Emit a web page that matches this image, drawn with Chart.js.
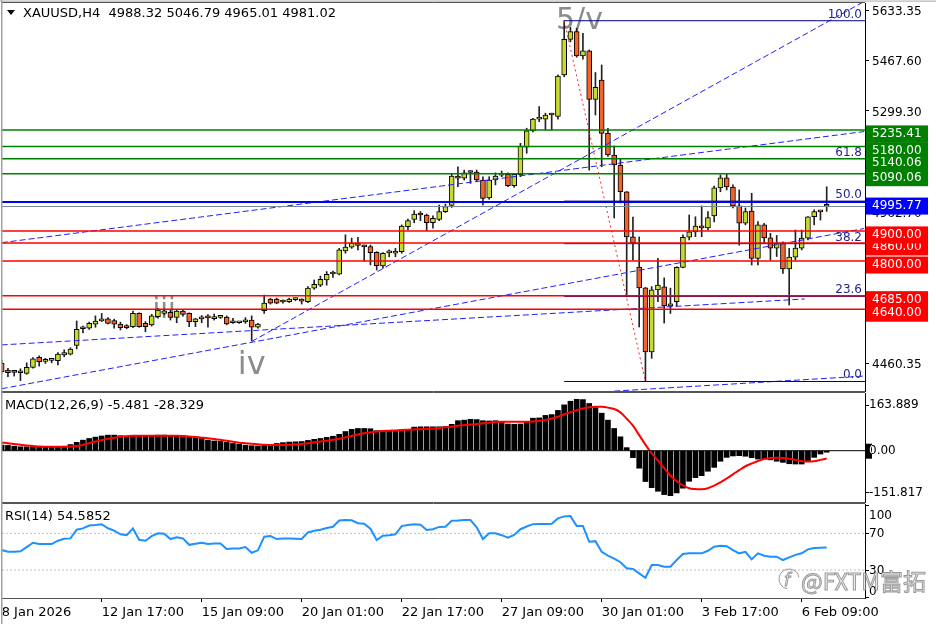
<!DOCTYPE html>
<html>
<head>
<meta charset="utf-8">
<script src="https://cdn.jsdelivr.net/npm/chart.js"></script>
<style>
  html, body { margin: 0; padding: 0; background: #fff; }
  #wrap { position: relative; width: 936px; height: 624px; overflow: hidden; background: #fff; }
  canvas { position: absolute; left: 0; }
  #mainCv { top: 0; }
  #macdCv { top: 392px; }
  #rsiCv { top: 503px; }
</style>
</head>
<body>
<div id="wrap">
  <canvas id="mainCv" width="936" height="392"></canvas>
  <canvas id="macdCv" width="936" height="111"></canvas>
  <canvas id="rsiCv" width="936" height="121"></canvas>
</div>
<script>
// XAUUSD H4 candles, 8 Jan - 9 Feb 2026
const symbol = 'XAUUSD';
const period = 'H4';

const openP = [4460,4438,4431,4429,4427,4447,4480,4467,4470,4469,
  4488,4491,4520,4575,4577,4590,4601,4608,4602,4591,
  4584,4582,4626,4593,4588,4615,4626,4630,4613,4634,
  4626,4599,4608,4618,4609,4613,4614,4595,4595,4598,
  4604,4580,4635,4674,4674,4664,4665,4672,4673,4665,
  4710,4720,4737,4757,4756,4834,4846,4859,4848,4848,
  4829,4784,4827,4826,4831,4914,4938,4955,4953,4927,
  4938,4964,4985,5082,5075,5094,5095,5069,5010,5069,
  5085,5088,5050,5087,5178,5232,5271,5271,5285,5280,
  5418,5536,5562,5481,5498,5337,5401,5224,5152,5119,
  5030,4880,4780,4711,4498,4704,4714,4651,4665,4779,
  4879,4897,4916,4910,4950,5043,5076,5046,4983,4926,
  4966,4809,4920,4877,4843,4860,4774,4813,4843,4876,
  4947,4964,4988.32];

const highP = [4471,4444,4435,4442,4462,4479,4485,4477,4477,4496,
  4505,4512,4601,4584,4597,4618,4626,4612,4607,4597,
  4589,4634,4628,4599,4623,4643,4641,4637,4637,4637,
  4628,4610,4619,4622,4624,4618,4618,4610,4597,4612,
  4618,4593,4687,4676,4677,4671,4677,4677,4675,4715,
  4737,4750,4765,4767,4842,4887,4876,4879,4853,4853,
  4831,4828,4837,4842,4920,4939,4967,4964,4956,4950,
  4986,4989,5089,5113,5102,5100,5102,5080,5080,5093,
  5099,5093,5091,5191,5241,5274,5313,5291,5291,5418,
  5598,5576,5573,5556,5501,5426,5451,5241,5182,5141,
  5031,4946,4880,4712,4715,4809,4744,4710,4781,4887,
  4953,4947,4983,4964,5049,5086,5091,5053,5036,4976,
  5025,4931,4925,4892,4885,4864,4842,4903,4903,4948,
  4970,4966,5046.79];

const lowP = [4428,4416,4418,4403,4424,4444,4451,4460,4462,4455,
  4482,4488,4508,4561,4573,4580,4599,4591,4577,4571,
  4575,4579,4580,4565,4584,4610,4621,4604,4595,4617,
  4582,4582,4595,4580,4604,4609,4588,4593,4593,4593,
  4535,4577,4626,4657,4658,4660,4662,4668,4657,4662,
  4706,4715,4720,4746,4754,4826,4842,4837,4800,4787,
  4770,4776,4814,4814,4826,4903,4927,4934,4901,4909,
  4934,4961,4978,5047,5069,5058,5063,4986,5005,5053,
  5080,5047,5045,5080,5158,5229,5263,5235,5235,5271,
  5412,5528,5477,5470,5102,5285,5113,5147,4943,4993,
  4681,4803,4581,4400,4477,4665,4594,4626,4650,4777,
  4870,4881,4881,4903,4930,5030,5036,4976,4853,4920,
  4787,4787,4859,4803,4815,4759,4654,4803,4837,4870,
  4920,4936,4965.01];

const closeP = [4433,4429,4430,4430,4447,4475,4466,4469,4471,4491,
  4496,4508,4573,4577,4593,4601,4608,4593,4590,4579,
  4579,4626,4582,4582,4618,4637,4635,4613,4634,4623,
  4599,4608,4615,4611,4615,4614,4591,4596,4595,4605,
  4580,4591,4660,4660,4660,4665,4674,4673,4667,4710,
  4723,4739,4756,4759,4837,4846,4859,4852,4847,4828,
  4785,4826,4828,4833,4916,4934,4956,4953,4927,4942,
  4964,4981,5082,5075,5093,5097,5069,5008,5069,5082,
  5088,5050,5088,5182,5232,5271,5272,5285,5286,5414,
  5536,5562,5481,5498,5337,5377,5224,5152,5119,5030,
  4880,4860,4711,4498,4704,4720,4651,4654,4779,4879,
  4897,4916,4910,4944,5043,5076,5046,4983,4926,4964,
  4809,4920,4877,4843,4860,4774,4813,4843,4876,4947,
  4964,4963,4981.02];

const macdHist = [20,19,16,14,14,14,15,15,15,15,
  16,22,30,38,44,49,53,56,56,54,
  53,55,55,55,55,56,56,55,55,54,
  50,47,44,38,35,34,30,26,23,20,
  18,17,19,22,26,29,31,32,33,37,
  41,44,48,52,59,69,77,80,80,79,
  72,72,73,73,75,77,85,86,86,86,
  86,87,95,108,110,113,112,108,107,108,
  103,96,95,96,103,117,118,127,130,145,
  165,178,185,184,170,155,135,110,80,50,
  11,-25,-63,-111,-133,-146,-158,-162,-152,-135,
  -110,-97,-90,-74,-60,-38,-24,-19,-18,-20,
  -25,-30,-30,-33,-38,-42,-47,-48,-48,-37,
  -24,-12,-5.481];

const macdSignal = [29,27,24,21,19,17,15,14.5,14.5,14.5,
  14.5,15,17,21,27,33,38,43,47,50,
  52,54,54,54,54,54,54,54,54,53,
  51,49,47,45,42,39,36,32,29,27,
  25,23,21,20.5,20.5,20.5,21,23,24,27,
  30,33,36,39,43,48,53,58,63,66,
  69,71,72,73,74.5,75.5,76.5,77.5,79,80,
  82,84,86.5,90,92,94,96,98.6,101,103,
  104,104,104,104,104,105,108,111,116,122,
  131,139,146,152,156,158,158,155,150,138,
  115,90,56,22,-10,-35,-63,-90,-110,-125,
  -135,-138,-139,-135,-126,-114,-100,-85,-70,-56,
  -46,-37,-30,-26,-25,-26,-29,-33,-37,-39,
  -38,-33,-28.329];

const rsiVals = [51.8,50,50,50.5,55,59.7,58.3,58.3,58.3,62,
  64,64.5,74,75.4,78.5,79,80,75.5,73,69,
  68.1,75.4,63,62,67,70,69.5,63.8,65.6,64.5,
  57.5,58.7,59.7,58.3,59,59,52.9,53.6,53.6,55,
  48.8,51.5,66.3,67,63.8,64.5,64.5,64.2,63.8,71,
  72.9,74,75.8,77.2,84,84.5,84.3,81,80.5,75,
  62.7,67.4,68,68.9,77.9,79,79.8,79.5,73.6,74.5,
  77,77.2,83.7,84,84.5,84.5,76.5,63.8,70,70,
  68,65.2,68.3,74.5,77.5,80,80.1,80.1,80.5,86.3,
  88.5,88.8,77.9,77.9,60.8,61.5,49.9,45.8,42.5,38.5,
  32,31.1,26.4,21.6,35.4,35.4,33.6,33.6,40.9,47.4,
  48.2,48.2,48.2,51,55.5,56.5,56,51.8,48.2,49.9,
  41.6,48.2,45.6,44.5,44.5,40.9,43.8,46.5,48.2,52.5,
  54,54.3,54.5852];

// time axis
const timeTickIdx = [0, 16, 32, 48, 64, 80, 96, 112, 128];
const timeTickLabels = ['8 Jan 2026', '12 Jan 17:00', '15 Jan 09:00', '20 Jan 01:00', '22 Jan 17:00',
  '27 Jan 09:00', '30 Jan 01:00', '3 Feb 17:00', '6 Feb 09:00'];

// price axis ticks
const priceTicks = [5633.35, 5467.60, 5299.30, 5131.51, 4962.70, 4795.93, 4628.14, 4460.35];
const macdTicks = [163.889, 0, -151.817];
const rsiTicks = [100, 70, 30, 0];
const rsiLevels = [70, 30];

// drawn objects
const greenLevels = [5235.41, 5180.00, 5140.06, 5090.06];
const redLevels = [4900.00, 4860.00, 4800.00, 4685.00, 4640.00];
const blueLevel = 4995.77;
const fibHigh = { k: 90, p: 5598 };
const fibLow = { k: 103, p: 4400 };
const fibRatios = [0, 23.6, 38.2, 50.0, 61.8, 100.0];
// [bar1, price1, bar2, price2]
const trendLines = [
  [0, 4861, 138, 5230],
  [40, 4533, 138, 5662],
  [0, 4521.5, 128.5, 4674],
  [0, 4376, 138, 4908],
  [98, 4368, 138, 4418],
];
// [text, bar, baseline price, font px]
const waveLabels = [['iii', 26, 4610, 28], ['iv', 40, 4424, 32], ['5/v', 92.45, 5572, 30]];
// axis tags in the order MT4 painted them
const priceTags = [[5235.41, 'g'], [5180.00, 'g'], [5140.06, 'g'], [5090.06, 'g'], [4995.77, 'b'],
  [4860.00, 'r'], [4900.00, 'r'], [4800.00, 'r'], [4685.00, 'r'], [4640.00, 'r']];

const N = closeP.length;
const X_MIN = 0.05, X_MAX = 138.13;
const AXIS_W = 71;
const FONT = '"DejaVu Sans", sans-serif';
const BULL = '#c9da2c', BEAR = '#f2642a';
const tagColors = { g: '#008000', b: '#0000ff', r: '#ff0000' };

Chart.defaults.font.family = FONT;

const fibPrice = (r) => fibLow.p + (fibHigh.p - fibLow.p) * r / 100;

function hLine(price, color, width, fromK, dash) {
  return {
    type: 'line',
    data: [{ x: fromK, y: price }, { x: X_MAX, y: price }],
    borderColor: color,
    borderWidth: width,
    borderDash: dash || [],
    pointRadius: 0,
    order: 1,
  };
}

// drop the label overhang padding chart.js adds, the windows are laid out by hand
function noPad(s) {
  s.paddingTop = 0; s.paddingBottom = 0; s.paddingLeft = 0; s.paddingRight = 0;
}

function xScale(show) {
  return {
    type: 'linear', display: show, min: X_MIN, max: X_MAX, offset: false,
    afterFit: noPad,
    grid: { offset: false, drawOnChartArea: false, tickLength: 4, color: '#000' },
  };
}

function yScale(min, max, ticks, labelFn, showLabels, pad, shift) {
  return {
    type: 'linear', position: 'right', min, max,
    afterFit: (s) => { s.width = AXIS_W; noPad(s); },
    afterBuildTicks: (s) => { s.ticks = ticks.map((v) => ({ value: v })); },
    ticks: {
      display: showLabels, autoSkip: false, padding: pad, color: '#000',
      labelOffset: shift || 0,
      font: { family: FONT, size: 12 },
      callback: labelFn,
    },
    grid: { drawOnChartArea: false, tickLength: 4, color: '#000' },
    border: { display: true, color: '#000' },
  };
}

const baseOpts = {
  responsive: false,
  animation: false,
  devicePixelRatio: 1,
  events: [],
  plugins: { legend: { display: false }, tooltip: { enabled: false } },
};

// frame lines around each sub-window
const panelFrame = {
  id: 'panelFrame',
  afterDraw(chart) {
    const { ctx, chartArea: a } = chart;
    ctx.save();
    ctx.strokeStyle = '#555';
    ctx.lineWidth = 1;
    ctx.beginPath();
    ctx.moveTo(a.left, a.top - 0.5); ctx.lineTo(a.right, a.top - 0.5);
    ctx.moveTo(a.left, a.bottom + 0.5); ctx.lineTo(a.right, a.bottom + 0.5);
    ctx.stroke();
    ctx.fillStyle = '#a0a0a0';
    ctx.fillRect(1, 0, 1.5, chart.height);
    ctx.restore();
  },
};

const mainDecor = {
  id: 'mainDecor',
  beforeDatasetsDraw(chart) {
    const { ctx, scales: { x, y } } = chart;
    ctx.save();
    ctx.fillStyle = '#8c8c8c';
    ctx.textAlign = 'center';
    ctx.textBaseline = 'alphabetic';
    waveLabels.forEach(([t, k, p, size]) => {
      ctx.font = size + 'px ' + FONT;
      ctx.fillText(t, x.getPixelForValue(k), y.getPixelForValue(p));
    });
    ctx.restore();
  },
  afterDraw(chart) {
    const { ctx, chartArea: a, scales: { y } } = chart;
    ctx.save();
    // top window edge
    ctx.fillStyle = '#b4b4b4';
    ctx.fillRect(0, 0.5, chart.width, 1.2);

    // fibo level captions
    ctx.font = '12px ' + FONT;
    ctx.fillStyle = '#1e1e8c';
    ctx.textAlign = 'right';
    ctx.textBaseline = 'alphabetic';
    fibRatios.forEach((r) => {
      ctx.fillText(r.toFixed(1), a.right - 3, y.getPixelForValue(fibPrice(r)) - 3);
    });

    // price tags on the axis
    ctx.textAlign = 'left';
    ctx.textBaseline = 'middle';
    priceTags.forEach(([p, kind]) => {
      const py = y.getPixelForValue(p);
      ctx.fillStyle = tagColors[kind];
      ctx.fillRect(a.right + 1, py - 4.5, 62, 17);
      ctx.fillStyle = '#fff';
      ctx.fillText(p.toFixed(2), a.right + 7, py + 4);
    });

    // title
    ctx.fillStyle = '#000';
    ctx.beginPath();
    ctx.moveTo(7, 10); ctx.lineTo(15, 10); ctx.lineTo(11, 15); ctx.closePath();
    ctx.fill();
    ctx.font = '13px ' + FONT;
    const last = N - 1;
    const ohlc = [openP[last], highP[last], lowP[last], closeP[last]].map((v) => v.toFixed(2)).join(' ');
    ctx.fillText(symbol + ',' + period + '  ' + ohlc, 23, 14);
    ctx.restore();
  },
};

const macdDecor = {
  id: 'macdDecor',
  afterDraw(chart) {
    const { ctx, chartArea: a, scales: { y } } = chart;
    ctx.save();
    ctx.font = '13px ' + FONT;
    ctx.fillStyle = '#000';
    ctx.textBaseline = 'middle';
    ctx.textAlign = 'left';
    ctx.fillText('MACD(12,26,9) ' + macdHist[N - 1].toFixed(3) + ' ' + macdSignal[N - 1].toFixed(3), 5, 14);
    // highlighted zero label
    const py = y.getPixelForValue(0);
    ctx.fillRect(a.right + 1, py - 7, 6, 15);
    ctx.beginPath();
    ctx.rect(a.right + 1, py - 7, 6, 15);
    ctx.clip();
    ctx.font = '12px ' + FONT;
    ctx.fillStyle = '#fff';
    ctx.fillText('0.00', a.right + 4, py);
    ctx.restore();
  },
};

const rsiDecor = {
  id: 'rsiDecor',
  afterDraw(chart) {
    const { ctx, chartArea: a, scales: { y } } = chart;
    ctx.save();
    ctx.font = '13px ' + FONT;
    ctx.fillStyle = '#000';
    ctx.textBaseline = 'middle';
    ctx.textAlign = 'left';
    ctx.fillText('RSI(14) ' + rsiVals[N - 1].toFixed(4), 5, 14);

    // MT4 keeps the edge labels inside the window
    ctx.font = '12px ' + FONT;
    rsiTicks.forEach((v) => {
      const py = Math.min(Math.max(y.getPixelForValue(v), a.top + 11), a.bottom - 7);
      ctx.fillText(String(v), a.right + 4, py + 1);
    });

    // watermark
    ctx.font = '23px "Noto Sans CJK SC", ' + FONT;
    ctx.textBaseline = 'alphabetic';
    ctx.lineWidth = 1;
    ctx.strokeStyle = 'rgba(120,120,120,0.75)';
    ctx.fillStyle = 'rgba(235,235,235,0.6)';
    ctx.fillText('@FXTM富拓', 801, 87);
    ctx.strokeText('@FXTM富拓', 801, 87);
    ctx.beginPath();
    ctx.arc(789, 76, 10, 0.55 * Math.PI, 1.95 * Math.PI);
    ctx.stroke();
    ctx.font = 'italic 17px ' + FONT;
    ctx.strokeText('f', 784, 83);
    ctx.restore();
  },
};

// ---- main window ----
const bodyColors = closeP.map((c, i) => (c >= openP[i] ? BULL : BEAR));

new Chart(document.getElementById('mainCv'), {
  type: 'bar',
  data: {
    datasets: [
      ...greenLevels.map((p) => hLine(p, '#008000', 1.5, X_MIN)),
      ...redLevels.map((p) => hLine(p, '#ff0000', 1.5, X_MIN)),
      hLine(blueLevel, '#0000ff', 2, X_MIN),
      hLine(closeP[N - 1], '#778899', 1, X_MIN),
      ...fibRatios.map((r) => hLine(fibPrice(r), '#000080', 1, fibHigh.k)),
      ...trendLines.map(([k1, p1, k2, p2]) => ({
        type: 'line',
        data: [{ x: k1, y: p1 }, { x: k2, y: p2 }],
        borderColor: '#2020ff', borderWidth: 1, borderDash: [6, 3], pointRadius: 0, order: 1,
      })),
      {
        type: 'line',
        data: [{ x: fibHigh.k, y: fibHigh.p }, { x: fibLow.k, y: fibLow.p }],
        borderColor: '#ff2020', borderWidth: 1, borderDash: [2, 3], pointRadius: 0, order: 1,
      },
      {
        type: 'bar',
        data: closeP.map((c, i) => ({ x: i, y: [lowP[i], highP[i]] })),
        backgroundColor: '#222', borderWidth: 0, barThickness: 1, grouped: false, order: 3,
      },
      {
        type: 'bar',
        data: closeP.map((c, i) => ({ x: i, y: [openP[i], c] })),
        backgroundColor: bodyColors, borderColor: '#000', borderWidth: 1, borderSkipped: false,
        barThickness: 5, minBarLength: 2, grouped: false, order: 2,
      },
    ],
  },
  options: {
    ...baseOpts,
    layout: { padding: { left: 2, top: 3, right: 0, bottom: 1 } },
    scales: {
      x: xScale(false),
      y: yScale(4368.4, 5656.9, priceTicks, (v) => v.toFixed(2), true, 3, 2),
    },
  },
  plugins: [panelFrame, mainDecor],
});

// ---- MACD window ----
new Chart(document.getElementById('macdCv'), {
  type: 'bar',
  data: {
    datasets: [
      { ...hLine(0, '#000', 1, X_MIN), order: 0 },
      {
        type: 'bar',
        data: macdHist.map((v, i) => ({ x: i, y: v })),
        backgroundColor: '#000', barThickness: 5, grouped: false, order: 2,
      },
      {
        type: 'line',
        data: macdSignal.map((v, i) => ({ x: i, y: v })),
        borderColor: '#ff0000', borderWidth: 2, pointRadius: 0, tension: 0.4, order: 1,
      },
    ],
  },
  options: {
    ...baseOpts,
    layout: { padding: { left: 2, top: 1, right: 0, bottom: 1 } },
    scales: {
      x: xScale(false),
      y: yScale(-184.7, 207.7, macdTicks, (v) => (v === 0 ? '0.00' : v.toFixed(3)), true, 0, 0),
    },
  },
  plugins: [panelFrame, macdDecor],
});

// ---- RSI window + time axis ----
const rsiX = xScale(true);
rsiX.afterBuildTicks = (s) => { s.ticks = timeTickIdx.map((v) => ({ value: v })); };
rsiX.afterFit = (s) => { s.height = 26; noPad(s); };
rsiX.ticks = {
  callback: (v, i) => timeTickLabels[i], autoSkip: false, maxRotation: 0, minRotation: 0,
  align: 'start', padding: 3, color: '#000', font: { family: FONT, size: 13 },
};
rsiX.border = { display: true, color: '#000' };

new Chart(document.getElementById('rsiCv'), {
  type: 'line',
  data: {
    datasets: [
      ...rsiLevels.map((v) => hLine(v, '#c0c0c0', 1, X_MIN, [2, 2])),
      {
        type: 'line',
        data: rsiVals.map((v, i) => ({ x: i, y: v })),
        borderColor: '#1e90ff', borderWidth: 2, pointRadius: 0, tension: 0, order: 0,
      },
    ],
  },
  options: {
    ...baseOpts,
    layout: { padding: { left: 2, top: 1, right: 0, bottom: 0 } },
    scales: {
      x: rsiX,
      y: yScale(-0.5, 102, rsiTicks, (v) => String(v), false, 0, 0),
    },
  },
  plugins: [panelFrame, rsiDecor],
});
</script>
</body>
</html>
